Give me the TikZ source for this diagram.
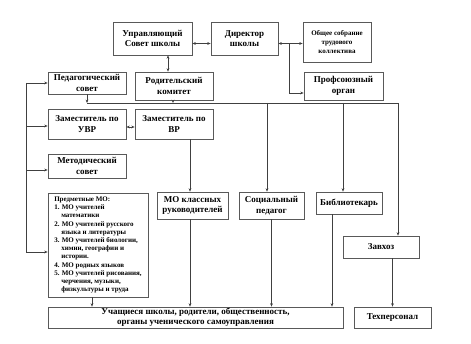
\documentclass[tikz,border=0pt]{standalone}
\usepackage{fontspec}
\setmainfont{Liberation Serif}
\usetikzlibrary{arrows.meta}

\begin{document}
\begin{tikzpicture}[x=1pt, y=-1pt, >={Stealth[length=3.4pt,width=2.8pt]},
   unit/.style={draw=black!65, line width=0.7pt, fill=white, align=center,
     inner sep=1pt, font=\fontsize{9}{10.5}\selectfont\bfseries},
   minor/.style={font=\fontsize{7}{8.6}\selectfont\bfseries},
   link/.style={draw=black!75, line width=0.6pt}]
   \useasboundingbox (0,0) rectangle (471,344);

   % top row
   \node[unit, minimum width=79pt, minimum height=33pt] (gov) at (152.5,38.5) {Управляющий\\Совет школы};
   \node[unit, minimum width=67pt, minimum height=33pt] (dir) at (244.5,38.5) {Директор\\школы};
   \node[unit, minor, minimum width=68pt, minimum height=40pt] (meeting) at (337,42) {Общее собрание\\трудового\\коллектива};
   \node[unit, minimum width=79pt, minimum height=28pt] (union) at (343.5,86) {Профсоюзный\\орган};

   % left column
   \node[unit, minimum width=78pt, minimum height=22pt] (pedsov) at (87,83) {Педагогический\\совет};
   \node[unit, minimum width=78pt, minimum height=28pt] (parents) at (174,86) {Родительский\\комитет};
   \node[unit, minimum width=78pt, minimum height=30pt] (uvr) at (87,124) {Заместитель по\\УВР};
   \node[unit, minimum width=78pt, minimum height=30pt] (vr) at (174,124) {Заместитель по\\ВР};
   \node[unit, minimum width=78pt, minimum height=24pt] (metod) at (87,166) {Методический\\совет};
   \node[unit, font=\fontsize{7}{8.2}\selectfont\bfseries, align=left, minimum width=100pt, minimum height=104pt] (subj) at (98,245)
     {Предметные МО:\\
      1. МО учителей\\
      \hspace*{7pt}математики\\
      2. МО учителей русского\\
      \hspace*{7pt}языка и литературы\\
      3. МО учителей биологии,\\
      \hspace*{7pt}химии, географии и\\
      \hspace*{7pt}истории.\\
      4. МО родных языков\\
      5. МО учителей рисования,\\
      \hspace*{7pt}черчения, музыки,\\
      \hspace*{7pt}физкультуры и труда};

   % middle row
   \node[unit, minimum width=71pt, minimum height=27pt] (klass) at (192.5,205.5) {МО классных\\руководителей};
   \node[unit, minimum width=65pt, minimum height=27pt] (social) at (271.5,205.5) {Социальный\\педагог};
   \node[unit, minimum width=66pt, minimum height=22pt] (lib) at (349,203) {Библиотекарь};
   \node[unit, minimum width=76pt, minimum height=22pt] (zavhoz) at (381,247) {Завхоз};

   % bottom row
   \node[unit, minimum width=295pt, minimum height=21pt] (pupils) at (195.5,317.5) {Учащиеся школы, родители, общественность,\\органы ученического самоуправления};
   \node[unit, minimum width=77pt, minimum height=21pt] (tech) at (392.5,317.5) {Техперсонал};

   % connectors at the top
   \draw[link, <->] ([yshift=-5pt]gov.east) -- ([yshift=-5pt]dir.west);
   \draw[link, <->] ([xshift=15.5pt]gov.south) -- ([xshift=15.5pt]gov.south |- parents.north);
   \draw[link, <->] ([yshift=-5pt]dir.east) -- ([yshift=-5pt]dir.east -| meeting.west);
   \draw[link, ->] ([yshift=-5pt,xshift=11pt]dir.east) |- ([yshift=-7pt]union.west);

   % horizontal bus
   \coordinate (busL) at (87,103);
   \coordinate (busR) at (398,103);
   \draw[link] (busL) -- (busR);
   \draw[link, ->] (pedsov.south) -- (busL);
   \draw[link, ->] ([xshift=-1pt]parents.south) -- ([xshift=-1pt]parents.south |- busL);
   \draw[link, ->] (busL -| 267,0) -- (267,0 |- social.north);
   \draw[link, ->] (busL -| 343,0) -- (343,0 |- lib.north);
   \draw[link, ->] (busR) -- (busR |- zavhoz.north);

   % deputies
   \draw[link, <->] ([yshift=-3pt]uvr.east) -- ([yshift=-3pt]vr.west);
   \draw[link, ->] ([xshift=16pt]vr.south) -- ([xshift=16pt]vr.south |- klass.north);

   % left bus
   \coordinate (lt) at (26,83);
   \coordinate (lb) at (26,252);
   \draw[link] (lt) -- (lb);
   \draw[link, ->] (lt) -- (pedsov.west);
   \draw[link, ->] ([yshift=-2pt]lt |- uvr.west) -- ([yshift=-2pt]uvr.west);
   \draw[link, ->] ([yshift=-4pt]lt |- metod.west) -- ([yshift=-4pt]metod.west);
   \draw[link, ->] (lb) -- (lb -| subj.west);

   % into the bottom row
   \draw[link, ->] ([xshift=-6pt]subj.south) -- ([xshift=-6pt]subj.south |- pupils.north);
   \draw[link, ->] ([xshift=-2.5pt]klass.south) -- ([xshift=-2.5pt]klass.south |- pupils.north);
   \draw[link, ->] (social.south) -- (social.south |- pupils.north);
   \draw[link, ->] ([xshift=-17pt]lib.south) -- ([xshift=-17pt]lib.south |- pupils.north);
   \draw[link, ->] (tech.north |- zavhoz.south) -- (tech.north);
\end{tikzpicture}
\end{document}
